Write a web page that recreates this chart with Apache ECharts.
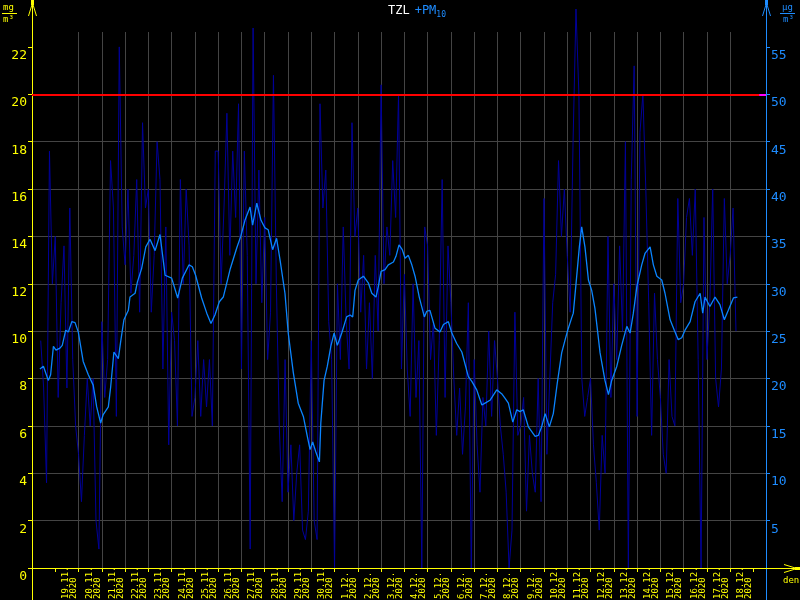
<!DOCTYPE html>
<html><head><meta charset="utf-8">
<script src="https://cdn.jsdelivr.net/npm/echarts@6/dist/echarts.min.js"></script>
<style>html,body{margin:0;padding:0;background:#000}#c{width:800px;height:600px}</style>
</head><body><div id="c"></div><script>
// Day 0 = 18.11.2020 00:00 ; x values are in days
const baseDate = [2020, 10, 18];
const dayTicks = [1,2,3,4,5,6,7,8,9,10,11,12,13,14,15,16,17,18,19,20,21,22,23,24,25,26,27,28,29,30,31];
const dayLabels = [1,2,3,4,5,6,7,8,9,10,11,12,13,14,15,16,17,18,19,20,21,22,23,24,25,26,27,28,29,30];
const leftTicks = [0,2,4,6,8,10,12,14,16,18,20,22];      // mg/m3
const rightTicks = [5,10,15,20,25,30,35,40,45,50,55];   // ug/m3
const limitPM10 = 50;
const limitMarkerDays = [31.25, 31.54];

// raw PM10 values (ug/m3), 3-hour step, starting 18.11. 09:00
const rawStartDay = 0.375, rawStepDay = 0.125;
const rawPM10 = [
  24, 19, 9, 44, 30,
  35, 18, 28, 34, 19, 38, 22, 15,
  12, 7, 14, 20, 15, 20, 5, 2,
  26, 18, 22, 43, 38, 16, 55, 36,
  32, 40, 29, 33, 41, 27, 47, 38,
  40, 27, 33, 45, 41, 21, 36, 13,
  27, 24, 15, 41, 30, 40, 34, 16,
  18, 24, 16, 22, 17, 22, 15, 44,
  44, 30, 38, 48, 33, 44, 37, 49,
  21, 44, 33, 2, 57, 30, 42, 28,
  37, 22, 27, 52, 30, 15, 7, 22,
  8, 13, 5, 10, 13, 4, 3, 6,
  24, 5, 3, 49, 38, 42, 26, 22,
  0, 30, 22, 36, 26, 21, 47, 35,
  38, 27, 33, 21, 28, 20, 33, 25,
  51, 30, 36, 33, 43, 37, 50, 21,
  31, 21, 16, 30, 18, 24, 0, 36,
  34, 22, 26, 14, 24, 41, 18, 34,
  28, 20, 14, 19, 12, 17, 28, 0,
  22, 13, 8, 18, 15, 25, 16, 24,
  20, 15, 12, 8, 0, 4, 27, 14,
  15, 18, 6, 14, 10, 8, 20, 7,
  39, 12, 20, 28, 31, 43, 35, 40,
  33, 27, 45, 59, 50, 20, 16, 18,
  20, 13, 9, 4, 14, 10, 35, 18,
  30, 22, 34, 25, 45, 0, 41, 53,
  16, 46, 50, 40, 28, 14, 29, 22,
  18, 12, 10, 22, 16, 15, 39, 28,
  30, 37, 39, 33, 40, 22, 0, 37,
  22, 28, 40, 20, 17, 21, 39, 30,
  33, 38, 25
];

// smoothed PM10 (ug/m3) as [day, value]
const smoothPM10 = [[0.34,21.0],[0.49,21.3],[0.70,19.8],[0.80,20.4],[0.92,23.4],[1.03,23.0],[1.20,23.2],[1.30,23.5],[1.45,25.1],[1.56,24.9],[1.71,26.0],[1.85,25.9],[1.99,24.9],[2.20,21.8],[2.42,20.4],[2.63,19.3],[2.78,17.0],[2.95,15.3],[3.06,16.2],[3.28,17.0],[3.38,19.1],[3.52,22.8],[3.71,22.1],[3.81,23.9],[3.95,26.2],[4.14,27.2],[4.21,28.6],[4.43,29.0],[4.53,30.2],[4.71,31.6],[4.89,33.9],[5.07,34.7],[5.29,33.5],[5.50,35.2],[5.72,30.9],[6.00,30.6],[6.26,28.5],[6.46,30.6],[6.75,32.0],[6.89,31.8],[7.03,30.9],[7.29,28.5],[7.51,26.9],[7.69,25.8],[7.86,26.7],[8.05,28.1],[8.22,28.6],[8.51,31.5],[8.80,33.8],[8.97,35.0],[9.15,36.7],[9.37,38.1],[9.48,36.2],[9.66,38.5],[9.84,36.7],[10.01,35.9],[10.15,35.7],[10.34,33.6],[10.51,34.8],[10.66,32.5],[10.87,29.0],[11.01,24.8],[11.23,20.6],[11.44,17.4],[11.66,16.0],[11.83,13.9],[11.95,12.5],[12.06,13.3],[12.19,12.3],[12.35,11.2],[12.41,15.3],[12.55,19.8],[12.69,21.3],[12.84,23.4],[12.98,24.8],[13.12,23.5],[13.31,24.8],[13.52,26.5],[13.67,26.7],[13.78,26.5],[13.88,29.3],[14.02,30.4],[14.24,30.8],[14.45,30.1],[14.60,29.0],[14.78,28.6],[14.88,29.7],[15.00,31.3],[15.17,31.5],[15.31,32.0],[15.53,32.3],[15.64,32.9],[15.77,34.1],[15.91,33.6],[16.03,32.7],[16.17,33.0],[16.32,32.0],[16.46,30.8],[16.64,28.6],[16.86,26.5],[16.96,27.1],[17.10,27.2],[17.32,25.3],[17.53,24.9],[17.68,25.7],[17.89,26.0],[18.04,24.8],[18.25,23.7],[18.47,22.8],[18.75,20.2],[18.90,19.7],[19.11,18.8],[19.33,17.2],[19.47,17.4],[19.68,17.7],[19.97,18.8],[20.18,18.4],[20.33,17.9],[20.47,17.4],[20.66,15.4],[20.83,16.7],[20.97,16.5],[21.11,16.7],[21.33,14.9],[21.62,13.9],[21.76,14.0],[21.90,14.9],[22.05,16.3],[22.23,14.9],[22.40,16.3],[22.57,19.5],[22.76,22.7],[22.91,24.1],[23.02,25.1],[23.19,26.4],[23.26,26.9],[23.38,30.1],[23.52,33.9],[23.62,36.0],[23.76,33.9],[23.91,30.4],[24.05,29.3],[24.19,27.4],[24.41,22.7],[24.62,19.8],[24.77,18.3],[24.91,19.8],[25.13,21.3],[25.34,23.5],[25.56,25.5],[25.70,24.8],[25.84,26.9],[25.99,29.7],[26.20,32.0],[26.34,33.2],[26.56,33.9],[26.70,32.0],[26.85,30.8],[27.06,30.4],[27.20,29.0],[27.42,26.2],[27.60,25.1],[27.77,24.1],[27.92,24.3],[28.06,25.1],[28.28,26.0],[28.49,28.1],[28.71,29.0],[28.82,26.9],[28.92,28.6],[29.13,27.6],[29.35,28.6],[29.56,27.8],[29.75,26.2],[29.92,27.2],[30.14,28.5],[30.31,28.6]];

const Y = '#ffff00', B = '#1e8cff', GRID = '#444444', FONT = 'DejaVu Sans Mono';
const xMax = 31.54, leftMax = 22.63, rightMax = leftMax * 2.5;
const labelShift = 0.63; // labels sit inside their day, right of the midnight tick

function dayLabel(v) {
  const d = new Date(baseDate[0], baseDate[1], baseDate[2] + v);
  return d.getDate() + '.' + (d.getMonth() + 1) + '.\n' + d.getFullYear();
}

const rawData = rawPM10.map((v, i) => [rawStartDay + i * rawStepDay, v]);

const chart = echarts.init(document.getElementById('c'), null, {renderer: 'canvas'});
chart.setOption({
  backgroundColor: '#000',
  animation: false,
  title: {
    text: '{w|TZL} {b|+PM}{s|10}',
    left: 388, top: 2, padding: 0,
    textStyle: {
      fontWeight: 'normal',
      rich: {
        w: {color: '#ffffff', fontFamily: FONT, fontSize: 12, fontWeight: 'normal'},
        b: {color: B, fontFamily: FONT, fontSize: 12, fontWeight: 'normal'},
        s: {color: B, fontFamily: FONT, fontSize: 8, fontWeight: 'normal', padding: [7, 0, 0, 0]}
      }
    }
  },
  grid: {left: 32, right: 34, top: 32, bottom: 32, outerBoundsMode: 'none', containLabel: false},
  xAxis: {
    type: 'value', min: 0, max: xMax, interval: 1,
    axisLine: {show: true, lineStyle: {color: Y, width: 1}},
    axisTick: {show: true, length: 4, inside: false, lineStyle: {color: Y}, customValues: dayTicks},
    splitLine: {show: true, showMinLine: false, showMaxLine: false, lineStyle: {color: GRID, width: 1}},
    axisLabel: {
      customValues: dayLabels.map(d => d + labelShift),
      showMinLabel: true, showMaxLabel: true, hideOverlap: false,
      formatter: v => dayLabel(Math.floor(v)),
      rotate: 90, align: 'left', verticalAlign: 'middle', margin: 31,
      color: Y, fontFamily: FONT, fontSize: 9, lineHeight: 8
    }
  },
  yAxis: [{
    type: 'value', position: 'left', min: 0, max: leftMax, interval: 2,
    axisLine: {show: true, lineStyle: {color: Y, width: 1}},
    axisTick: {show: true, length: 4, inside: false, lineStyle: {color: Y}, customValues: leftTicks},
    splitLine: {show: true, showMinLine: false, showMaxLine: false, lineStyle: {color: GRID, width: 1}},
    axisLabel: {customValues: leftTicks, showMinLabel: true, color: Y, fontFamily: FONT, fontSize: 13, margin: 5, verticalAlign: 'top', padding: [2, 0, 0, 0]}
  }, {
    type: 'value', position: 'right', min: 0, max: rightMax, interval: 5,
    axisLine: {show: true, lineStyle: {color: B, width: 1}},
    axisTick: {show: true, length: 4, inside: false, lineStyle: {color: B}, customValues: rightTicks},
    splitLine: {show: false},
    axisLabel: {customValues: rightTicks, color: B, fontFamily: FONT, fontSize: 13, margin: 5, verticalAlign: 'top', padding: [2, 0, 0, 0]}
  }],
  series: [{
    name: 'raw', type: 'line', yAxisIndex: 1, data: rawData,
    showSymbol: false, symbol: 'none', clip: false, z: 2,
    lineStyle: {color: '#00009a', width: 1}
  }, {
    name: 'smooth', type: 'line', yAxisIndex: 1, data: smoothPM10,
    showSymbol: false, symbol: 'none', clip: false, z: 4,
    lineStyle: {color: '#0a84ff', width: 1.3},
    markLine: {
      silent: true, symbol: 'none', label: {show: false},
      lineStyle: {color: '#ff0000', width: 2, type: 'solid'},
      data: [
        {yAxis: limitPM10},
        [{coord: [limitMarkerDays[0], limitPM10], lineStyle: {color: '#ff00ff', width: 2}},
         {coord: [limitMarkerDays[1], limitPM10]}]
      ]
    }
  }],
  graphic: [
    // left axis extension + arrow
    {type: 'line', z: 100, shape: {x1: 32.5, y1: 0, x2: 32.5, y2: 32}, style: {stroke: Y, lineWidth: 1}},
    {type: 'line', z: 100, shape: {x1: 32.5, y1: 568, x2: 32.5, y2: 600}, style: {stroke: Y, lineWidth: 1}},
    {type: 'polyline', z: 100, shape: {points: [[28.5, 16], [32.5, 3], [36.5, 16]]}, style: {stroke: Y, fill: null, lineWidth: 1}},
    {type: 'rect', z: 100, shape: {x: 31, y: 0, width: 3, height: 5}, style: {fill: Y}},
    // right axis extension + arrow
    {type: 'line', z: 100, shape: {x1: 766.5, y1: 0, x2: 766.5, y2: 32}, style: {stroke: B, lineWidth: 1}},
    {type: 'line', z: 100, shape: {x1: 766.5, y1: 568, x2: 766.5, y2: 600}, style: {stroke: B, lineWidth: 1}},
    {type: 'polyline', z: 100, shape: {points: [[762.5, 16], [766.5, 3], [770.5, 16]]}, style: {stroke: B, fill: null, lineWidth: 1}},
    {type: 'rect', z: 100, shape: {x: 765, y: 0, width: 3, height: 5}, style: {fill: B}},
    // bottom axis extension + arrow
    {type: 'line', z: 100, shape: {x1: 766, y1: 568.5, x2: 800, y2: 568.5}, style: {stroke: Y, lineWidth: 1}},
    {type: 'polyline', z: 100, shape: {points: [[784, 564.5], [797, 568.5], [784, 572.5]]}, style: {stroke: Y, fill: null, lineWidth: 1}},
    {type: 'rect', z: 100, shape: {x: 795, y: 567, width: 5, height: 3}, style: {fill: Y}},
    {type: 'text', z: 100, x: 783, y: 576, style: {text: 'den', fill: Y, font: '9px ' + FONT}},
    // units
    {type: 'text', z: 100, x: 3, y: 3, style: {text: 'mg', fill: Y, font: '9px ' + FONT}},
    {type: 'line', z: 100, shape: {x1: 2, y1: 13.5, x2: 17, y2: 13.5}, style: {stroke: Y, lineWidth: 1}},
    {type: 'text', z: 100, x: 3, y: 15, style: {text: 'm³', fill: Y, font: '9px ' + FONT}},
    {type: 'text', z: 100, x: 782, y: 3, style: {text: 'µg', fill: B, font: '9px ' + FONT}},
    {type: 'line', z: 100, shape: {x1: 780, y1: 13.5, x2: 795, y2: 13.5}, style: {stroke: B, lineWidth: 1}},
    {type: 'text', z: 100, x: 783, y: 15, style: {text: 'm³', fill: B, font: '9px ' + FONT}}
  ]
});
</script></body></html>
